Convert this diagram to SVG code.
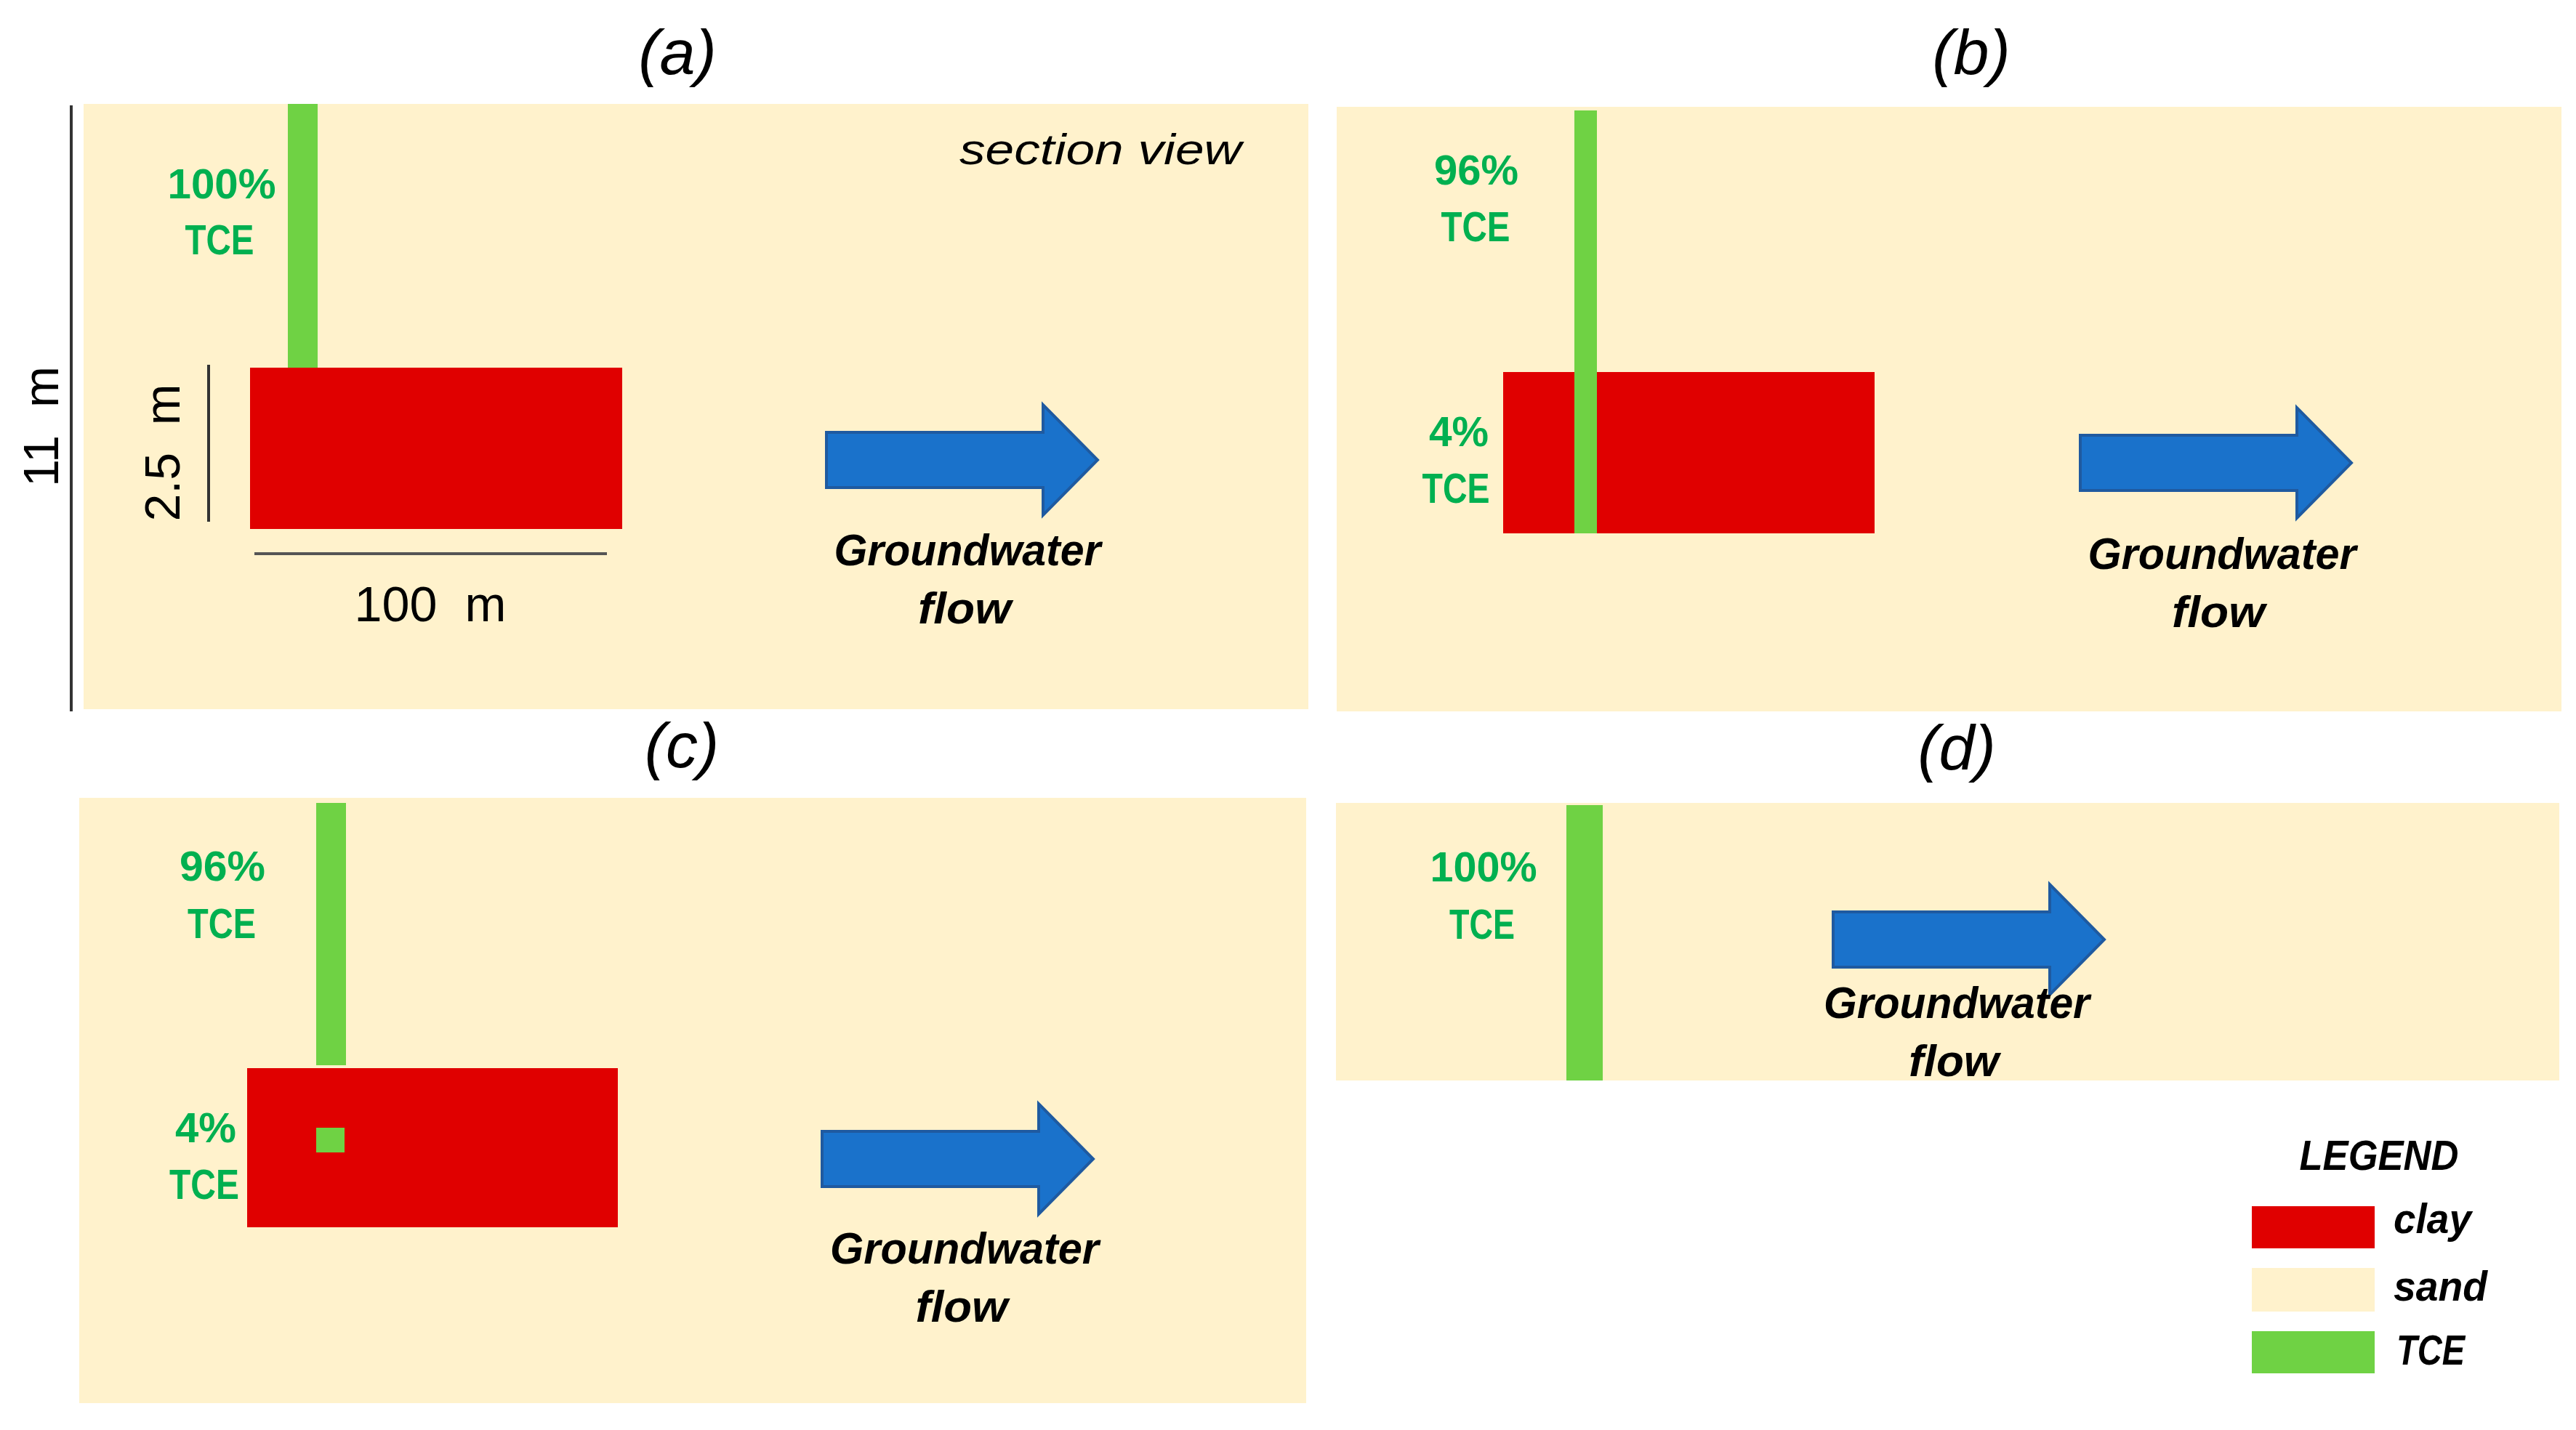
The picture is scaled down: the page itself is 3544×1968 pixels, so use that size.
<svg xmlns="http://www.w3.org/2000/svg" xmlns:xlink="http://www.w3.org/1999/xlink" width="3544" height="1968" viewBox="0 0 3544 1968">
<style>
.sand{fill:#FFF2CC}
.clay{fill:#E00000}
.tce{fill:#6FD244}
.pct{font-family:"Liberation Sans",Arial,sans-serif;font-weight:bold;font-size:58px;fill:#00B050;text-anchor:middle}
.title{font-family:"Liberation Sans",Arial,sans-serif;font-style:italic;font-size:88px;fill:#000;text-anchor:middle}
.gw{font-family:"Liberation Sans",Arial,sans-serif;font-style:italic;font-weight:bold;font-size:62px;fill:#000;text-anchor:middle}
.dim{font-family:"Liberation Sans",Arial,sans-serif;font-size:68px;fill:#000;text-anchor:middle}
.leg{font-family:"Liberation Sans",Arial,sans-serif;font-style:italic;font-weight:bold;font-size:58px;fill:#000}
.arrow{fill:#1A72CB;stroke:#1F5AA0;stroke-width:4}
.dline{stroke:#333;stroke-width:4}
</style>
<defs>
<path id="flowArrow" d="M0,-38 H298 V-76 L373,0 L298,76 V38 H0 Z"/>
</defs>
<rect width="3544" height="1968" fill="#FFFFFF"/>

<g id="panel-a">
<rect class="sand" x="115" y="143" width="1685" height="833"/>
<rect class="tce" x="396" y="143" width="41" height="364"/>
<rect class="clay" x="344" y="506" width="512" height="222"/>
<text class="title" x="932" y="102">(a)</text>
<text class="pct" x="305" y="273" textLength="149" lengthAdjust="spacingAndGlyphs">100%</text>
<text class="pct" x="302" y="350" textLength="95" lengthAdjust="spacingAndGlyphs">TCE</text>
<text x="1514" y="226" font-family="Liberation Sans,Arial,sans-serif" font-style="italic" font-size="60" text-anchor="middle" textLength="388" lengthAdjust="spacingAndGlyphs">section view</text>
<text class="gw" x="1331" y="778" textLength="367" lengthAdjust="spacingAndGlyphs">Groundwater</text>
<text class="gw" x="1327" y="858" textLength="128" lengthAdjust="spacingAndGlyphs">flow</text>
</g>

<g id="dimensions">
<line class="dline" x1="98" y1="145" x2="98" y2="979"/>
<text class="dim" x="80" y="587" transform="rotate(-90 80 587)" textLength="166" lengthAdjust="spacingAndGlyphs" xml:space="preserve">11  m</text>
<line class="dline" x1="287" y1="502" x2="287" y2="718"/>
<text class="dim" x="247" y="623" transform="rotate(-90 247 623)" textLength="189" lengthAdjust="spacingAndGlyphs" xml:space="preserve">2.5  m</text>
<line x1="350" y1="762" x2="835" y2="762" stroke="#555" stroke-width="4"/>
<text class="dim" x="592" y="855" textLength="209" lengthAdjust="spacingAndGlyphs" xml:space="preserve">100  m</text>
</g>

<g id="panel-b">
<rect class="sand" x="1839" y="147" width="1685" height="832"/>
<rect class="clay" x="2068" y="512" width="511" height="222"/>
<rect class="tce" x="2166" y="152" width="31" height="582"/>
<text class="title" x="2712" y="102">(b)</text>
<text class="pct" x="2031" y="254" textLength="116" lengthAdjust="spacingAndGlyphs">96%</text>
<text class="pct" x="2030" y="332" textLength="95" lengthAdjust="spacingAndGlyphs">TCE</text>
<text class="pct" x="2007" y="614" textLength="82" lengthAdjust="spacingAndGlyphs">4%</text>
<text class="pct" x="2003" y="692" textLength="93" lengthAdjust="spacingAndGlyphs">TCE</text>
<text class="gw" x="3057" y="783" textLength="369" lengthAdjust="spacingAndGlyphs">Groundwater</text>
<text class="gw" x="3052" y="863" textLength="128" lengthAdjust="spacingAndGlyphs">flow</text>
</g>

<g id="panel-c">
<rect class="sand" x="109" y="1098" width="1688" height="833"/>
<rect class="tce" x="435" y="1105" width="41" height="361"/>
<rect class="clay" x="340" y="1470" width="510" height="219"/>
<rect class="tce" x="435" y="1552" width="39" height="34"/>
<text class="title" x="938" y="1056">(c)</text>
<text class="pct" x="306" y="1212" textLength="118" lengthAdjust="spacingAndGlyphs">96%</text>
<text class="pct" x="305" y="1291" textLength="94" lengthAdjust="spacingAndGlyphs">TCE</text>
<text class="pct" x="283" y="1572" textLength="84" lengthAdjust="spacingAndGlyphs">4%</text>
<text class="pct" x="281" y="1650" textLength="96" lengthAdjust="spacingAndGlyphs">TCE</text>
<text class="gw" x="1327" y="1739" textLength="370" lengthAdjust="spacingAndGlyphs">Groundwater</text>
<text class="gw" x="1323" y="1819" textLength="127" lengthAdjust="spacingAndGlyphs">flow</text>
</g>

<g id="panel-d">
<rect class="sand" x="1838" y="1105" width="1683" height="382"/>
<rect class="tce" x="2155" y="1108" width="50" height="379"/>
<text class="title" x="2692" y="1059">(d)</text>
<text class="pct" x="2041" y="1213" textLength="147" lengthAdjust="spacingAndGlyphs">100%</text>
<text class="pct" x="2039" y="1292" textLength="90" lengthAdjust="spacingAndGlyphs">TCE</text>
</g>

<g id="flow-arrows">
<use xlink:href="#flowArrow" href="#flowArrow" class="arrow" transform="translate(1137,633)"/>
<use xlink:href="#flowArrow" href="#flowArrow" class="arrow" transform="translate(2862,637)"/>
<use xlink:href="#flowArrow" href="#flowArrow" class="arrow" transform="translate(1131,1595)"/>
<use xlink:href="#flowArrow" href="#flowArrow" class="arrow" transform="translate(2522,1293)"/>
</g>

<g id="panel-d-labels">
<text class="gw" x="2692" y="1401" textLength="366" lengthAdjust="spacingAndGlyphs">Groundwater</text>
<text class="gw" x="2688" y="1481" textLength="124" lengthAdjust="spacingAndGlyphs">flow</text>
</g>

<g id="legend">
<text class="leg" x="3273" y="1610" text-anchor="middle" textLength="219" lengthAdjust="spacingAndGlyphs">LEGEND</text>
<rect class="clay" x="3098" y="1660" width="169" height="58"/>
<text class="leg" x="3293" y="1697" textLength="107" lengthAdjust="spacingAndGlyphs">clay</text>
<rect class="sand" x="3098" y="1745" width="169" height="60"/>
<text class="leg" x="3293" y="1790" textLength="129" lengthAdjust="spacingAndGlyphs">sand</text>
<rect class="tce" x="3098" y="1832" width="169" height="58"/>
<text class="leg" x="3297" y="1878" textLength="94" lengthAdjust="spacingAndGlyphs">TCE</text>
</g>
</svg>
